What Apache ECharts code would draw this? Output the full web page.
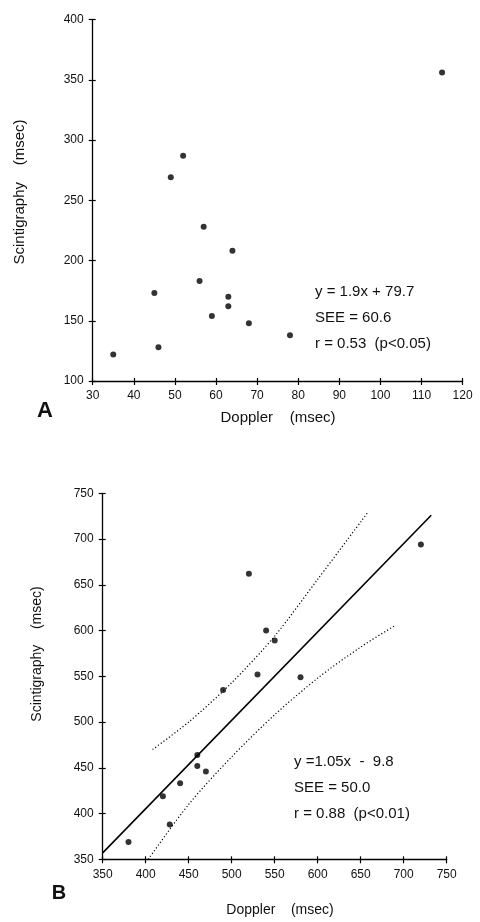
<!DOCTYPE html>
<html><head><meta charset="utf-8">
<script src="https://cdn.jsdelivr.net/npm/echarts@6/dist/echarts.min.js"></script>
<style>html,body{margin:0;padding:0;background:#fff}#c{width:480px;height:922px}</style>
</head><body><div id="c"></div>
<script>
// Panel A data
var aDoppler = [35, 45, 46, 49, 52, 56, 57, 59, 63, 63, 64, 68, 78, 115];
var aScint   = [122, 173, 128, 269, 287, 183, 228, 154, 170, 162, 208, 148, 138, 356];
var aXTicks = [30, 40, 50, 60, 70, 80, 90, 100, 110, 120];
var aYTicks = [100, 150, 200, 250, 300, 350, 400];
var aStats = ['y = 1.9x + 79.7', 'SEE = 60.6', 'r = 0.53  (p<0.05)'];
// Panel B data
var bDoppler = [380, 420, 428, 440, 460, 460, 470, 490, 520, 530, 540, 550, 580, 720];
var bScint   = [369, 419, 388, 433, 464, 452, 446, 535, 662, 552, 600, 589, 549, 694];
var bFitX = [350, 732];
var bFitY = [357, 726];
var bUpperX = [408, 450, 500, 550, 600, 659];
var bUpperY = [470, 500, 543, 594, 656, 730];
var bLowerX = [403, 450, 500, 550, 600, 650, 691];
var bLowerY = [350, 410, 462, 508, 548, 582, 606];
var bXTicks = [350, 400, 450, 500, 550, 600, 650, 700, 750];
var bYTicks = [350, 400, 450, 500, 550, 600, 650, 700, 750];
var bStats = ['y =1.05x  -  9.8', 'SEE = 50.0', 'r = 0.88  (p<0.01)'];

function zip(xs, ys) { return xs.map(function (x, i) { return [x, ys[i]]; }); }
var FONT = 'Liberation Sans';
var INK = '#000';

function mainAxis(grid, ticks, pos) {
  return {
    type: 'value', gridIndex: grid, position: pos,
    min: ticks[0], max: ticks[ticks.length - 1], interval: ticks[1] - ticks[0],
    axisLine: { show: true, onZero: false, lineStyle: { color: INK, width: 1.3 } },
    axisTick: { show: true, length: 4, lineStyle: { color: INK, width: 1.2 } },
    axisLabel: { color: '#111', fontFamily: FONT, fontSize: 12, margin: 9 },
    splitLine: { show: false }
  };
}
function overlayAxis(grid, ticks, pos) {
  return {
    type: 'value', gridIndex: grid, position: pos,
    min: ticks[0], max: ticks[ticks.length - 1], interval: ticks[1] - ticks[0],
    axisLine: { show: false, onZero: false },
    axisTick: { show: true, inside: true, length: 3, lineStyle: { color: INK, width: 1.2 } },
    axisLabel: { show: false },
    splitLine: { show: false }
  };
}

var chart = echarts.init(document.getElementById('c'), null, { renderer: 'canvas' });

function statText(lines, x, y, gap, size) {
  return lines.map(function (t, i) {
    return { type: 'text', left: x, top: y + i * gap,
      style: { text: t, fill: '#111', font: size + 'px "' + FONT + '"' } };
  });
}

var graphics = [
  { type: 'text', x: 20, y: 192, rotation: Math.PI / 2,
    style: { text: 'Scintigraphy    (msec)', fill: '#111', font: '15px "' + FONT + '"', align: 'center', verticalAlign: 'middle' } },
  { type: 'text', x: 278, y: 418,
    style: { text: 'Doppler    (msec)', fill: '#111', font: '15px "' + FONT + '"', align: 'center', verticalAlign: 'middle' } },
  { type: 'text', x: 45, y: 411,
    style: { text: 'A', fill: '#111', font: 'bold 22px "' + FONT + '"', align: 'center', verticalAlign: 'middle' } },
  { type: 'text', x: 37, y: 654, rotation: Math.PI / 2,
    style: { text: 'Scintigraphy    (msec)', fill: '#111', font: '14px "' + FONT + '"', align: 'center', verticalAlign: 'middle' } },
  { type: 'text', x: 280, y: 910,
    style: { text: 'Doppler    (msec)', fill: '#111', font: '14px "' + FONT + '"', align: 'center', verticalAlign: 'middle' } },
  { type: 'text', x: 59, y: 893,
    style: { text: 'B', fill: '#111', font: 'bold 20px "' + FONT + '"', align: 'center', verticalAlign: 'middle' } }
].concat(statText(aStats, 315, 284, 26, 15)).concat(statText(bStats, 294, 754, 26, 15));

var option = {
  backgroundColor: '#fff',
  animation: false,
  grid: [
    { left: 92.7, right: 17.4, top: 19.5, bottom: 922 - 381 },
    { left: 102.7, right: 33.3, top: 493.3, bottom: 922 - 859.3 }
  ],
  xAxis: [
    mainAxis(0, aXTicks, 'bottom'), overlayAxis(0, aXTicks, 'bottom'),
    mainAxis(1, bXTicks, 'bottom'), overlayAxis(1, bXTicks, 'bottom')
  ],
  yAxis: [
    mainAxis(0, aYTicks, 'left'), overlayAxis(0, aYTicks, 'left'),
    mainAxis(1, bYTicks, 'left'), overlayAxis(1, bYTicks, 'left')
  ],
  series: [
    { type: 'scatter', xAxisIndex: 0, yAxisIndex: 0, data: zip(aDoppler, aScint),
      symbol: 'circle', symbolSize: 6, itemStyle: { color: INK } },
    { type: 'scatter', xAxisIndex: 2, yAxisIndex: 2, data: zip(bDoppler, bScint),
      symbol: 'circle', symbolSize: 6, itemStyle: { color: INK } },
    { type: 'line', xAxisIndex: 2, yAxisIndex: 2, data: zip(bFitX, bFitY),
      symbol: 'none', lineStyle: { color: INK, width: 1.6 }, clip: true },
    { type: 'line', xAxisIndex: 2, yAxisIndex: 2, data: zip(bUpperX, bUpperY), smooth: 0.3,
      symbol: 'none', lineStyle: { color: INK, width: 1.2, type: [1.2, 2.2] } },
    { type: 'line', xAxisIndex: 2, yAxisIndex: 2, data: zip(bLowerX, bLowerY), smooth: 0.3,
      symbol: 'none', lineStyle: { color: INK, width: 1.2, type: [1.2, 2.2] } }
  ],
  graphic: graphics
};
chart.setOption(option);
</script>
</body></html>
